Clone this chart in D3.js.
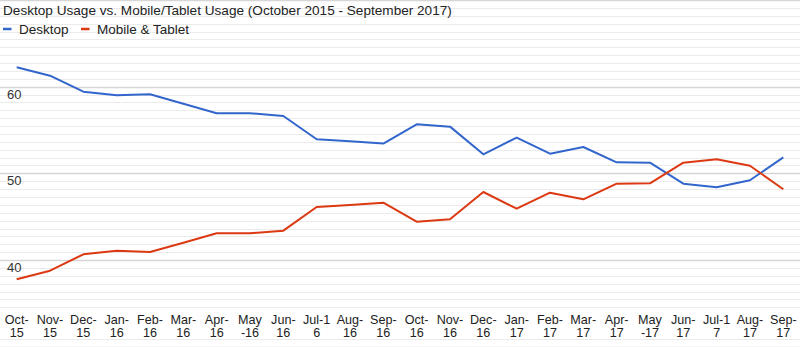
<!DOCTYPE html>
<html>
<head>
<meta charset="utf-8">
<script src="https://cdn.jsdelivr.net/npm/d3@7"></script>
<style>
  html, body { margin: 0; padding: 0; background: #fff; }
  svg { display: block; font-family: "Liberation Sans", Arial, sans-serif; }
</style>
</head>
<body>
<svg id="chart" width="800" height="347"></svg>
<script>
// Monthly share of traffic, October 2015 – September 2017
const categories = ["Oct-15","Nov-15","Dec-15","Jan-16","Feb-16","Mar-16","Apr-16","May-16",
  "Jun-16","Jul-16","Aug-16","Sep-16","Oct-16","Nov-16","Dec-16","Jan-17","Feb-17","Mar-17",
  "Apr-17","May-17","Jun-17","Jul-17","Aug-17","Sep-17"];

// Axis labels as they wrap under each month
const tickLabels = ["Oct-\n15","Nov-\n15","Dec-\n15","Jan-\n16","Feb-\n16","Mar-\n16","Apr-\n16","May\n-16",
  "Jun-\n16","Jul-1\n6","Aug-\n16","Sep-\n16","Oct-\n16","Nov-\n16","Dec-\n16","Jan-\n17","Feb-\n17","Mar-\n17",
  "Apr-\n17","May\n-17","Jun-\n17","Jul-1\n7","Aug-\n17","Sep-\n17"];

const desktop = [62.24, 61.27, 59.42, 59.0, 59.12, 58.03, 56.93, 56.93, 56.62, 53.93, 53.7, 53.43,
  55.66, 55.39, 52.2, 54.12, 52.27, 53.04, 51.27, 51.23, 48.81, 48.39, 49.2, 51.85];

const mobileTablet = [37.78, 38.77, 40.66, 41.08, 40.93, 42.0, 43.08, 43.08, 43.39, 46.12, 46.35, 46.62,
  44.42, 44.7, 47.85, 45.92, 47.77, 47.0, 48.81, 48.85, 51.23, 51.62, 50.88, 48.16];

const yTicks = [40, 50, 60];
const seriesNames = ["Desktop", "Mobile & Tablet"];
const seriesColors = ["#3366cc", "#dc3912"];

const width = 800, height = 347;
const svg = d3.select("#chart");

const x = d3.scalePoint().domain(categories).range([16.7, 783.3]);
const y = d3.scaleLinear().domain([30, 70]).range([346.7, 0]);

// Gridlines: majors every 10, ten minor lines between each pair
const majorStep = 10, minorCount = 10;
const gridVals = [];
for (let m = 30; m < 70; m += majorStep) {
  for (let k = 0; k <= minorCount; k++) {
    gridVals.push({ v: m + k * majorStep / (minorCount + 1), major: k === 0 });
  }
}
gridVals.push({ v: 70, major: true });

svg.append("g").selectAll("line").data(gridVals).join("line")
  .attr("x1", 0).attr("x2", width)
  .attr("y1", d => Math.round(y(d.v)) + 0.5)
  .attr("y2", d => Math.round(y(d.v)) + 0.5)
  .attr("stroke", d => d.major ? "#d6d6d6" : "#ebebeb")
  .attr("stroke-width", d => d.major ? 1.5 : 1);

// Y axis labels sit just beneath their gridline
svg.append("g").selectAll("text").data(yTicks).join("text")
  .attr("x", 7)
  .attr("y", d => y(d) + 12)
  .attr("font-size", 13)
  .attr("fill", "#333")
  .text(d => d);

// Series lines
const line = d3.line().x((d, i) => x(categories[i])).y(d => y(d));
[desktop, mobileTablet].forEach((vals, i) => {
  svg.append("path")
    .datum(vals)
    .attr("d", line)
    .attr("fill", "none")
    .attr("stroke", seriesColors[i])
    .attr("stroke-width", 2)
    .attr("stroke-linejoin", "round");
});

// Category axis: each wrapped line is its own text element
svg.append("rect").attr("x", 0).attr("y", 310).attr("width", width).attr("height", 26).attr("fill", "#fff");
const tickRows = [];
categories.forEach((c, i) => {
  tickLabels[i].split("\n").forEach((p, j) => tickRows.push({ cat: c, row: j, text: p }));
});
svg.append("g").selectAll("text").data(tickRows).join("text")
  .attr("x", d => x(d.cat))
  .attr("y", d => 323.6 + d.row * 13.2)
  .attr("text-anchor", "middle")
  .attr("font-size", 12.6)
  .attr("fill", "#222")
  .text(d => d.text);

// Title
svg.append("text")
  .attr("x", 3).attr("y", 15)
  .attr("font-size", 13.6)
  .attr("fill", "#222")
  .text("Desktop Usage vs. Mobile/Tablet Usage (October 2015 - September 2017)");

// Legend
const legend = svg.append("g");
const legendPos = [3, 81];
seriesNames.forEach((name, i) => {
  legend.append("line")
    .attr("x1", legendPos[i]).attr("x2", legendPos[i] + 8.5)
    .attr("y1", 29).attr("y2", 29)
    .attr("stroke", seriesColors[i]).attr("stroke-width", 2.5);
  legend.append("text")
    .attr("x", legendPos[i] + 16).attr("y", 33.5)
    .attr("font-size", 13.5)
    .attr("fill", "#222")
    .text(name);
});
</script>
</body>
</html>
